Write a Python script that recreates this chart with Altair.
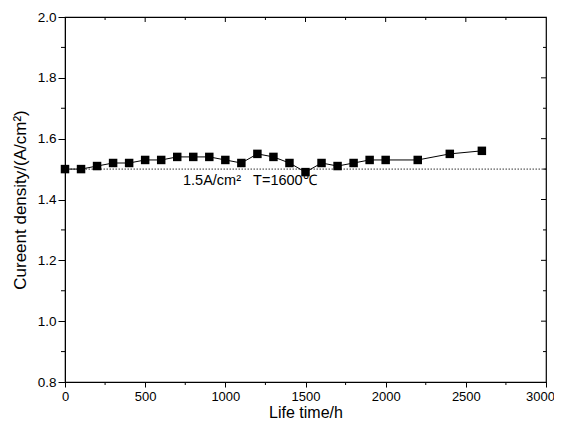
import altair as alt
import pandas as pd

# ---- data ----
hours = [0, 100, 200, 300, 400, 500, 600, 700, 800, 900, 1000, 1100, 1200,
         1300, 1400, 1500, 1600, 1700, 1800, 1900, 2000, 2200, 2400, 2600]
density = [1.50, 1.50, 1.51, 1.52, 1.52, 1.53, 1.53, 1.54, 1.54, 1.54, 1.53, 1.52, 1.55,
           1.54, 1.52, 1.49, 1.52, 1.51, 1.52, 1.53, 1.53, 1.53, 1.55, 1.56]
x_major = [0, 500, 1000, 1500, 2000, 2500, 3000]
x_minor = [250, 750, 1250, 1750, 2250, 2750]
y_major = [0.8, 1.0, 1.2, 1.4, 1.6, 1.8, 2.0]
y_minor = [0.9, 1.1, 1.3, 1.5, 1.7, 1.9]
ref_value = [1.5]
note_text = ["1.5A/cm\u00b2\u00a0\u00a0\u00a0T=1600\u2103"]
note_x = [736]
note_y = [1.462]

W, H = 481, 365
FONT = "Liberation Sans"

df = pd.DataFrame({"h": hours, "d": density})
xs = alt.Scale(domain=[0, 3000], nice=False, zero=False)
ys = alt.Scale(domain=[0.8, 2.0], nice=False, zero=False)

x_axis = alt.Axis(values=x_major, format="d", title="Life time/h", tickSize=5,
                  tickColor="black", domainColor="black", labelColor="black",
                  titleColor="black", labelFont=FONT, titleFont=FONT, labelFontSize=13,
                  titleFontSize=16, titleFontWeight="normal", labelPadding=3,
                  titlePadding=1, grid=False, labelFlush=False,
                  labelOffset={"condition": {"test": "datum.value == 3000", "value": -6},
                               "value": 0})
y_axis = alt.Axis(values=y_major, format=".1f", title="Cureent density/(A/cm\u00b2)",
                  tickSize=7, tickColor="black", domainColor="black", labelColor="black",
                  titleColor="black", labelFont=FONT, titleFont=FONT, labelFontSize=13.5,
                  titleFontSize=17, titleFontWeight="normal", labelPadding=2,
                  titlePadding=8, grid=False, labelFlush=False)

base = alt.Chart(df)
line = base.mark_line(color="black", strokeWidth=1).encode(
    x=alt.X("h:Q", scale=xs, axis=x_axis),
    y=alt.Y("d:Q", scale=ys, axis=y_axis),
)
pts = base.mark_square(color="black", size=72, opacity=1).encode(
    x=alt.X("h:Q", scale=xs), y=alt.Y("d:Q", scale=ys)
)
ref = alt.Chart(pd.DataFrame({"r": ref_value})).mark_rule(
    color="#333333", strokeWidth=1, strokeDash=[1.5, 1.5]
).encode(y=alt.Y("r:Q", scale=ys))

note = alt.Chart(pd.DataFrame({"x": note_x, "y": note_y, "t": note_text})).mark_text(
    align="left", baseline="middle", font=FONT, fontSize=14.5, color="black"
).encode(x=alt.X("x:Q", scale=xs), y=alt.Y("y:Q", scale=ys), text="t:N")

xmaj = pd.DataFrame({"v": x_major[1:-1]})
xmin = pd.DataFrame({"v": x_minor})
ymaj = pd.DataFrame({"v": y_major[1:-1]})
ymin = pd.DataFrame({"v": y_minor})

def xtick(data, y1, y2):
    return alt.Chart(data).mark_rule(color="black", strokeWidth=1).encode(
        x=alt.X("v:Q", scale=xs), y=alt.value(y1), y2=alt.value(y2))

def ytick(data, x1, x2):
    return alt.Chart(data).mark_rule(color="black", strokeWidth=1).encode(
        y=alt.Y("v:Q", scale=ys), x=alt.value(x1), x2=alt.value(x2))

ticks = [
    xtick(xmin, H, H + 3),          # bottom minor, outward
    xtick(xmaj, 0, 5),              # top major, inward
    xtick(xmin, 0, 3),              # top minor, inward
    ytick(ymin, 0, -4),             # left minor, outward
    ytick(ymaj, W, W - 5),          # right major, inward
    ytick(ymin, W, W - 3),          # right minor, inward
]

chart = alt.layer(ref, line, pts, note, *ticks).properties(
    width=W, height=H,
    autosize=alt.AutoSizeParams(type="none"),
    padding={"left": 57, "top": 9, "right": 8, "bottom": 38},
    background="white",
).configure_view(stroke="black", strokeWidth=1.2)

chart.save("out.html", embed_options={"renderer": "svg", "actions": False})
